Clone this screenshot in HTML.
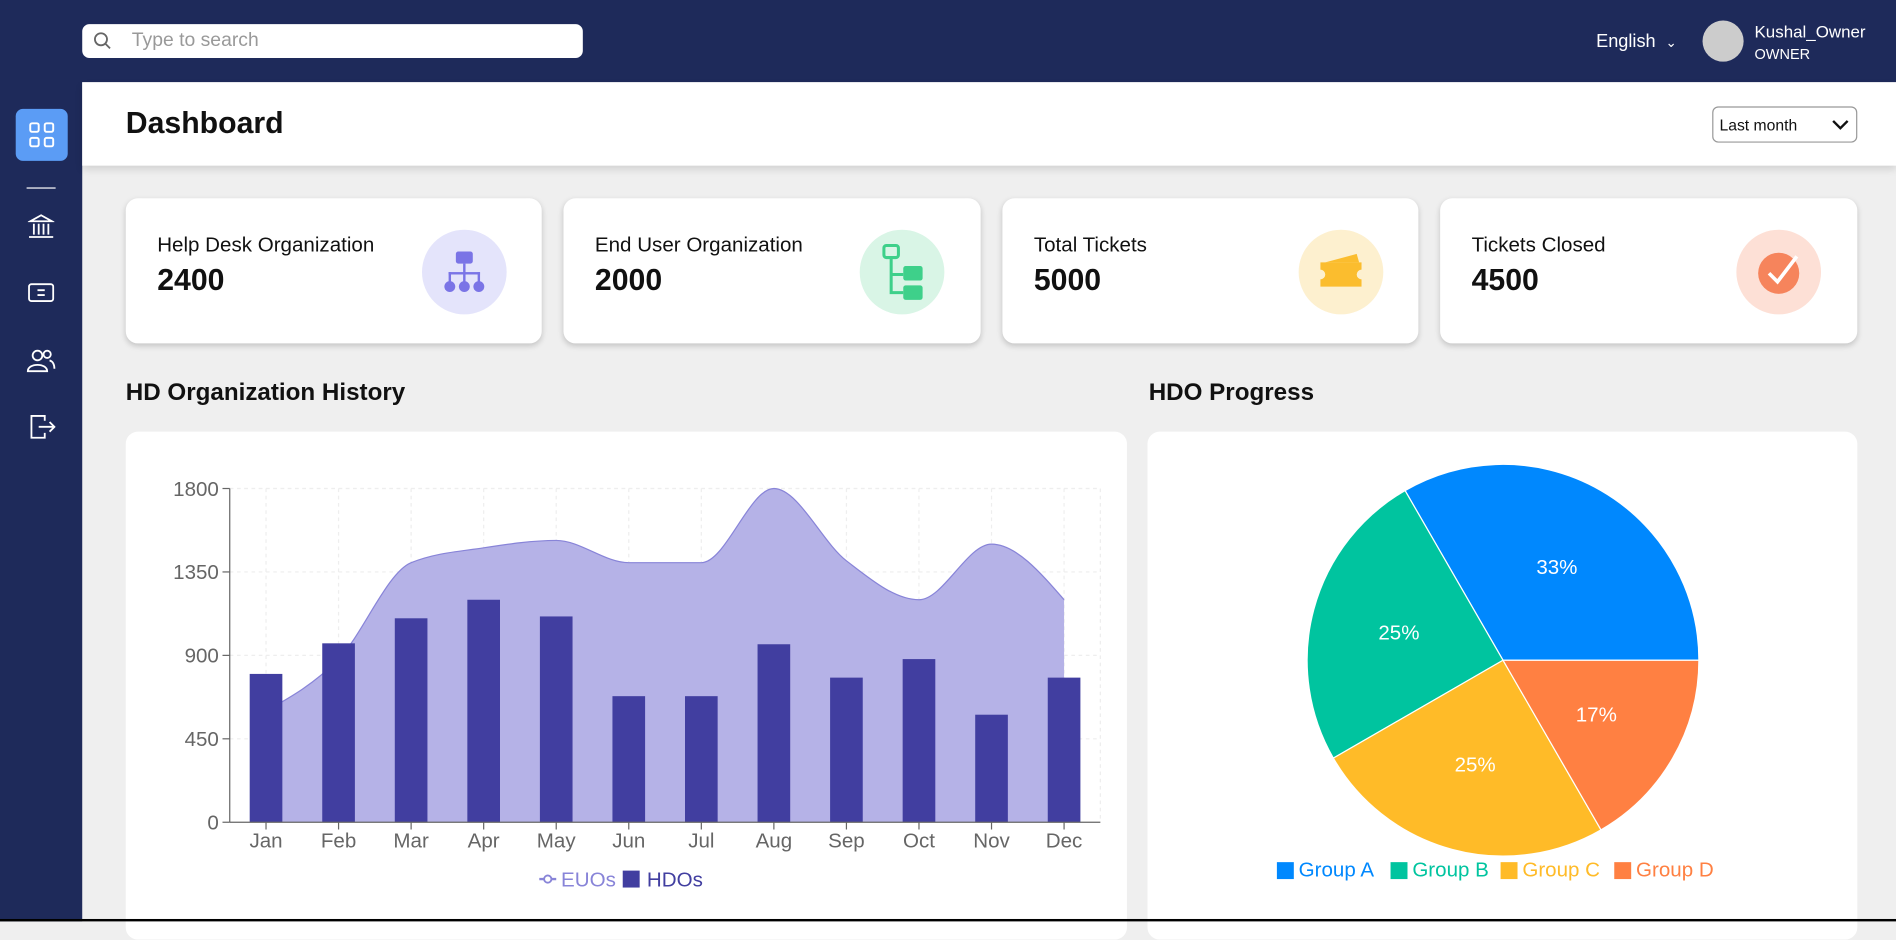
<!DOCTYPE html>
<html><head><meta charset="utf-8">
<style>
html,body{margin:0;padding:0;width:1896px;height:922px;overflow:hidden;background:#efefef;font-family:"Liberation Sans",sans-serif}
#wrap{position:absolute;left:0;top:0;width:1568px;height:762px;transform:scale(1.20918);transform-origin:0 0;background:#efefef}
.abs{position:absolute}
.card{position:absolute;background:#fff;border-radius:10px;box-shadow:0 2px 5px rgba(0,0,0,.18)}
.ct{position:absolute;left:26px;top:29px;font-size:17px;color:#111}
.cv{position:absolute;left:26px;top:54px;font-size:25px;font-weight:bold;color:#111}
.ic{position:absolute;left:245px;top:26px;width:70px;height:70px;border-radius:50%}
.sec{position:absolute;font-size:20px;font-weight:bold;color:#111}
</style></head><body>
<div id="wrap">
<div class="abs" style="left:0;top:0;width:1568px;height:68px;background:#1e2a5a"></div>
<div class="abs" style="left:0;top:0;width:68px;height:762px;background:#1e2a5a"></div>
<div class="abs" style="left:68px;top:20px;width:414px;height:28px;background:#fff;border-radius:6px">
 <svg class="abs" style="left:9px;top:6px" width="16" height="16"><circle cx="6.5" cy="6.5" r="5" fill="none" stroke="#666" stroke-width="1.5"/><line x1="10" y1="10" x2="14" y2="14" stroke="#666" stroke-width="1.5"/></svg>
 <span class="abs" style="left:41px;top:5px;font-size:16px;color:#999">Type to search</span></div>
<div class="abs" style="left:1320px;top:26px;color:#fff;font-size:15px">English <span style="font-size:11px;margin-left:4px">&#8964;</span></div>
<div class="abs" style="left:1408px;top:17px;width:34px;height:34px;border-radius:50%;background:#ccc"></div>
<div class="abs" style="left:1451px;top:18px;color:#fff;font-size:14px">Kushal_Owner</div>
<div class="abs" style="left:1451px;top:38px;color:#fff;font-size:12px">OWNER</div>
<div class="abs" style="left:13px;top:90px;width:43px;height:43px;background:#5b9cf5;border-radius:6px">
 <svg width="43" height="43"><g fill="none" stroke="#fff" stroke-width="1.6"><rect x="12" y="12" width="7" height="7" rx="1.5"/><rect x="24" y="12" width="7" height="7" rx="1.5"/><rect x="12" y="24" width="7" height="7" rx="1.5"/><rect x="24" y="24" width="7" height="7" rx="1.5"/></g></svg></div>
<div class="abs" style="left:22px;top:155px;width:24px;height:1px;background:#fff"></div>
<svg class="abs" style="left:23px;top:176px" width="22" height="22"><g fill="none" stroke="#fff" stroke-width="1.5"><path d="M2 7 L11 2 L20 7 Z"/><line x1="5" y1="9" x2="5" y2="18"/><line x1="9" y1="9" x2="9" y2="18"/><line x1="13" y1="9" x2="13" y2="18"/><line x1="17" y1="9" x2="17" y2="18"/><line x1="1" y1="20" x2="21" y2="20"/></g></svg>
<svg class="abs" style="left:23px;top:232px" width="22" height="20"><g fill="none" stroke="#fff" stroke-width="1.5"><rect x="1" y="3" width="20" height="14" rx="2"/><line x1="8" y1="8" x2="14" y2="8"/><line x1="8" y1="12" x2="14" y2="12"/></g></svg>
<svg class="abs" style="left:22px;top:287px" width="24" height="22"><g fill="none" stroke="#fff" stroke-width="1.5"><circle cx="9" cy="7" r="4"/><path d="M1 20 C1 13 17 13 17 20 Z"/><circle cx="17" cy="6" r="3"/><path d="M19 11 C22 12 23 15 23 18"/></g></svg>
<svg class="abs" style="left:24px;top:342px" width="22" height="22"><g fill="none" stroke="#fff" stroke-width="1.5"><path d="M13 6 V2 H2 V20 H13 V16"/><line x1="8" y1="11" x2="21" y2="11"/><path d="M17 7 L21 11 L17 15"/></g></svg>
<div class="abs" style="left:68px;top:68px;width:1500px;height:69px;background:#fff;box-shadow:0 3px 6px rgba(0,0,0,.12)"></div>
<div class="abs" style="left:104px;top:88px;font-size:25px;font-weight:bold;color:#111">Dashboard</div>
<div class="abs" style="left:1416px;top:88px;width:118px;height:28px;border:1px solid #999;border-radius:5px;background:#fff">
 <span class="abs" style="left:5px;top:7px;font-size:13px;color:#111">Last month</span>
 <svg class="abs" style="left:98px;top:9px" width="14" height="10"><path d="M1 2 L7 8 L13 2" fill="none" stroke="#111" stroke-width="2"/></svg></div>

<div class="card" style="left:104px;top:164px;width:344px;height:120px"><div class="ct">Help Desk Organization</div><div class="cv">2400</div><div class="ic" style="background:#e4e4fb"><svg width="70" height="70"><g fill="#7a74e6"><rect x="28" y="18" width="14" height="10" rx="2"/><rect x="34" y="28" width="2" height="8"/><rect x="22" y="35" width="26" height="2"/><rect x="22" y="35" width="2" height="8"/><rect x="34" y="35" width="2" height="8"/><rect x="46" y="35" width="2" height="8"/><circle cx="23" cy="47" r="4.5"/><circle cx="35" cy="47" r="4.5"/><circle cx="47" cy="47" r="4.5"/></g></svg></div></div>
<div class="card" style="left:466px;top:164px;width:345px;height:120px"><div class="ct">End User Organization</div><div class="cv">2000</div><div class="ic" style="background:#d9f5e6"><svg width="70" height="70"><g fill="none" stroke="#3ed08a" stroke-width="2.5"><rect x="20" y="13" width="12" height="10" rx="2"/><path d="M26 23 V52 H36 M26 37 H36"/></g><rect x="36" y="30" width="16" height="12" rx="2" fill="#3ed08a"/><rect x="36" y="46" width="16" height="12" rx="2" fill="#3ed08a"/></svg></div></div>
<div class="card" style="left:829px;top:164px;width:344px;height:120px"><div class="ct">Total Tickets</div><div class="cv">5000</div><div class="ic" style="background:#fdf0cf"><svg width="70" height="70"><path d="M18 27 H52 V33 A4 4 0 0 0 52 41 V47 H18 V41 A4 4 0 0 0 18 33 Z" fill="#fbbd2e"/><path d="M22 27 L48 20 L50 27 Z" fill="#fbbd2e"/></svg></div></div>
<div class="card" style="left:1191px;top:164px;width:345px;height:120px"><div class="ct">Tickets Closed</div><div class="cv">4500</div><div class="ic" style="background:#fde0d6"><svg width="70" height="70"><circle cx="35" cy="36" r="17" fill="#f6845c"/><path d="M27 36 L34 43 L50 22" fill="none" stroke="#fff" stroke-width="3"/></svg></div></div>

<div class="sec" style="left:104px;top:314px">HD Organization History</div>
<div class="sec" style="left:950px;top:314px">HDO Progress</div>
<div class="card" style="left:104px;top:357px;width:828px;height:420px;box-shadow:none"></div>
<div class="card" style="left:949px;top:357px;width:587px;height:420px;box-shadow:none"></div>

<svg class="abs" id="charts" style="left:0;top:0" width="1568" height="762" font-family="Liberation Sans, sans-serif"></svg>
<div class="abs" style="left:0;top:760px;width:1568px;height:2px;background:#000"></div>
</div>
<script>
const months=["Jan","Feb","Mar","Apr","May","Jun","Jul","Aug","Sep","Oct","Nov","Dec"];
const euos=[600,880,1400,1480,1520,1400,1400,1800,1410,1200,1500,1200];
const hdos=[800,965,1100,1200,1110,680,680,960,780,880,580,780];
const yTicks=[0,450,900,1350,1800];
const pieGroups=["Group A","Group B","Group C","Group D"];
const pieValues=[400,300,300,200];
const pieColors=["#0088FE","#00C49F","#FFBB28","#FF8042"];

const NS="http://www.w3.org/2000/svg";
const svg=document.getElementById('charts');
function mk(tag,attrs,parent){const e=document.createElementNS(NS,tag);for(const k in attrs)e.setAttribute(k,attrs[k]);(parent||svg).appendChild(e);return e;}
const X0=190,X1=910,Y0=680,Y1=404,YMAX=1800;
const band=(X1-X0)/months.length;
const xS=i=>X0+band*(i+0.5);
const yS=v=>Y0-(v/YMAX)*(Y0-Y1);

// grid
yTicks.forEach(t=>{if(t>0){const g=mk('line',{x1:X0,x2:X1,y1:yS(t),y2:yS(t),stroke:'#eee','stroke-dasharray':'3 3'});}});
months.forEach((m,i)=>{const g=mk('line',{x1:xS(i),x2:xS(i),y1:Y1,y2:Y0,stroke:'#eee','stroke-dasharray':'3 3'});});
mk('line',{x1:X1,x2:X1,y1:Y1,y2:Y0,stroke:'#eee','stroke-dasharray':'3 3'});
mk('line',{x1:X0,x2:X1,y1:Y1,y2:Y1,stroke:'#eee','stroke-dasharray':'3 3'});

// monotone area
const pts=euos.map((v,i)=>[xS(i),yS(v)]);
function monotone(p){const n=p.length,d=[],m=[];for(let i=0;i<n-1;i++)d.push((p[i+1][1]-p[i][1])/(p[i+1][0]-p[i][0]));
 m[0]=d[0];m[n-1]=d[n-2];for(let i=1;i<n-1;i++){if(d[i-1]*d[i]<=0)m[i]=0;else{const h0=p[i][0]-p[i-1][0],h1=p[i+1][0]-p[i][0];const s=(d[i-1]*h1+d[i]*h0)/(h0+h1);m[i]=Math.sign(d[i])*Math.min(Math.abs(s),2*Math.abs(d[i-1]),2*Math.abs(d[i]));}}
 m[0]=(3*d[0]-m[1])/2;m[n-1]=(3*d[n-2]-m[n-2])/2;
 let s=`M${p[0][0]},${p[0][1]}`;for(let i=0;i<n-1;i++){const h=(p[i+1][0]-p[i][0])/3;s+=` C${p[i][0]+h},${p[i][1]+m[i]*h} ${p[i+1][0]-h},${p[i+1][1]-m[i+1]*h} ${p[i+1][0]},${p[i+1][1]}`;}return s;}
const line=monotone(pts);
const area=mk('path',{d:line+` L${pts[pts.length-1][0]},${Y0} L${pts[0][0]},${Y0} Z`,fill:'#b5b2e7',stroke:'none'});


const al=mk('path',{d:line,fill:'none',stroke:'#8884d8','stroke-width':1});



// bars
const bw=27;
hdos.forEach((v,i)=>{const b=mk('rect',{x:xS(i)-bw/2,y:yS(v),width:bw,height:Y0-yS(v),fill:'#413ea0'});
 
 });

// axes
mk('line',{x1:X0,x2:X0,y1:Y1,y2:Y0,stroke:'#666'});
mk('line',{x1:X0,x2:X1,y1:Y0,y2:Y0,stroke:'#666'});
yTicks.forEach(t=>{mk('line',{x1:X0-6,x2:X0,y1:yS(t),y2:yS(t),stroke:'#666'});
 const tx=mk('text',{x:X0-9,y:yS(t)+6,'text-anchor':'end','font-size':17,fill:'#666'});tx.textContent=t;
 
 });
months.forEach((m,i)=>{mk('line',{x1:xS(i),x2:xS(i),y1:Y0,y2:Y0+6,stroke:'#666'});
 const tx=mk('text',{x:xS(i),y:Y0+21,'text-anchor':'middle','font-size':17,fill:'#666'});tx.textContent=m;
 
 });
// legend
const lg=mk('g',{});


mk('line',{x1:446,x2:460,y1:727,y2:727,stroke:'#8884d8','stroke-width':2},lg);
mk('circle',{cx:453,cy:727,r:3,fill:'#fff',stroke:'#8884d8','stroke-width':1.5},lg);
let t1=mk('text',{x:464,y:733,'font-size':17,fill:'#8884d8'},lg);t1.textContent='EUOs';
mk('rect',{x:515,y:720,width:14,height:14,fill:'#413ea0'},lg);
let t2=mk('text',{x:535,y:733,'font-size':17,fill:'#413ea0'},lg);t2.textContent='HDOs';

// pie
const cx=1243,cy=546,R=162;
const tot=pieValues.reduce((a,b)=>a+b,0);
let ang=0;
pieValues.forEach((v,i)=>{const a0=ang,a1=ang+v/tot*2*Math.PI;ang=a1;
 const p0=[cx+R*Math.cos(a0),cy-R*Math.sin(a0)],p1=[cx+R*Math.cos(a1),cy-R*Math.sin(a1)];
 const large=(a1-a0)>Math.PI?1:0;
 const s=mk('path',{d:`M${cx},${cy} L${p0[0]},${p0[1]} A${R},${R} 0 ${large} 0 ${p1[0]},${p1[1]} Z`,fill:pieColors[i],stroke:'#fff','stroke-width':1});
 
 
 const am=(a0+a1)/2,lr=R*0.55;
 const lt=mk('text',{x:cx+lr*Math.cos(am),y:cy-lr*Math.sin(am)+6,'text-anchor':'middle','font-size':17,fill:'#fff'});
 lt.textContent=Math.round(v/tot*100)+'%';
 
 });
const lx=[1056,1150,1241,1335];
pieGroups.forEach((g,i)=>{const r=mk('rect',{x:lx[i],y:713,width:14,height:14,fill:pieColors[i]});
 
 
 const t=mk('text',{x:lx[i]+18,y:725,'font-size':17,fill:pieColors[i]});t.textContent=g;
 
 });
</script>
</body></html>
